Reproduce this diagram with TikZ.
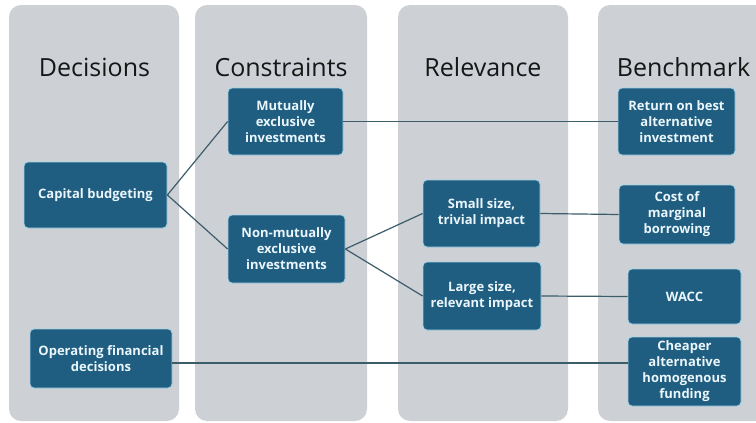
\documentclass[tikz,border=0pt]{standalone}
\usepackage{fontspec}
\setmainfont{Open Sans}
\usetikzlibrary{positioning}
\definecolor{colgray}{RGB}{205,209,214}
\definecolor{boxblue}{RGB}{31,94,128}
\definecolor{boxedge}{RGB}{160,210,230}
\definecolor{boxtext}{RGB}{235,246,252}
\definecolor{linecol}{RGB}{60,92,106}
\definecolor{headtext}{RGB}{22,22,22}
\tikzset{
  colbg/.style={fill=colgray, draw=none, rounded corners=12pt},
  head/.style={anchor=base, font=\fontsize{25}{28}\selectfont, text=headtext},
  bluebox/.style={draw=boxedge, line width=0.8pt, fill=boxblue, rounded corners=4pt,
     text=boxtext, align=center, inner sep=1pt,
     font=\fontsize{13}{16}\selectfont\bfseries},
  conn/.style={draw=linecol, line width=1.2pt}
}
\begin{document}
\begin{tikzpicture}[x=1pt,y=-1pt]
\useasboundingbox (0,0) rectangle (756,423);
\fill[white] (0,0) rectangle (756,423);
% columns
\path[colbg] (9,5) rectangle (179,421);
\path[colbg] (195,5) rectangle (367,421);
\path[colbg] (398,5) rectangle (568,421);
\path[colbg] (598,5) rectangle (772,421);
% headers
\node[head] (h1) at (94.5,76) {Decisions};
\node[head] (h2) at (281,76) {Constraints};
\node[head] (h3) at (483,76) {Relevance};
\node[head] (h4) at (683.5,76) {Benchmark};
% boxes
\node[bluebox, minimum width=143pt, minimum height=66pt] (cap) at (95.5,195) {Capital budgeting};
\node[bluebox, minimum width=115pt, minimum height=67pt] (mut) at (285.5,121.5) {Mutually\\exclusive\\investments};
\node[bluebox, minimum width=117pt, minimum height=68pt] (non) at (286.5,249) {Non-mutually\\exclusive\\investments};
\node[bluebox, minimum width=142pt, minimum height=59pt] (op) at (101,358.5) {Operating financial\\decisions};
\node[bluebox, minimum width=117pt, minimum height=67pt] (small) at (481.5,213.5) {Small size,\\trivial impact};
\node[bluebox, minimum width=118pt, minimum height=68pt] (large) at (482,296) {Large size,\\relevant impact};
\node[bluebox, minimum width=117pt, minimum height=67pt] (ret) at (676.5,121.5) {Return on best\\alternative\\investment};
\node[bluebox, minimum width=116pt, minimum height=59pt] (cost) at (677,214.5) {Cost of\\marginal\\borrowing};
\node[bluebox, minimum width=113pt, minimum height=55pt] (wacc) at (684.5,296.5) {WACC};
\node[bluebox, minimum width=113pt, minimum height=69pt] (cheap) at (684.5,371.5) {Cheaper\\alternative\\homogenous\\funding};
% connectors
\draw[conn] (cap.east) -- (mut.west);
\draw[conn] (cap.east) -- (non.west);
\draw[conn] (mut.east) -- (ret.west);
\draw[conn] (non.east) -- (small.west);
\draw[conn] (non.east) -- (large.west);
\draw[conn] (small.east) -- (cost.west);
\draw[conn] (large.east) -- (wacc.west);
\coordinate (opout) at ([yshift=-4.5pt]op.east);
\draw[conn] (opout) -- (opout -| cheap.west);
\end{tikzpicture}
\end{document}
